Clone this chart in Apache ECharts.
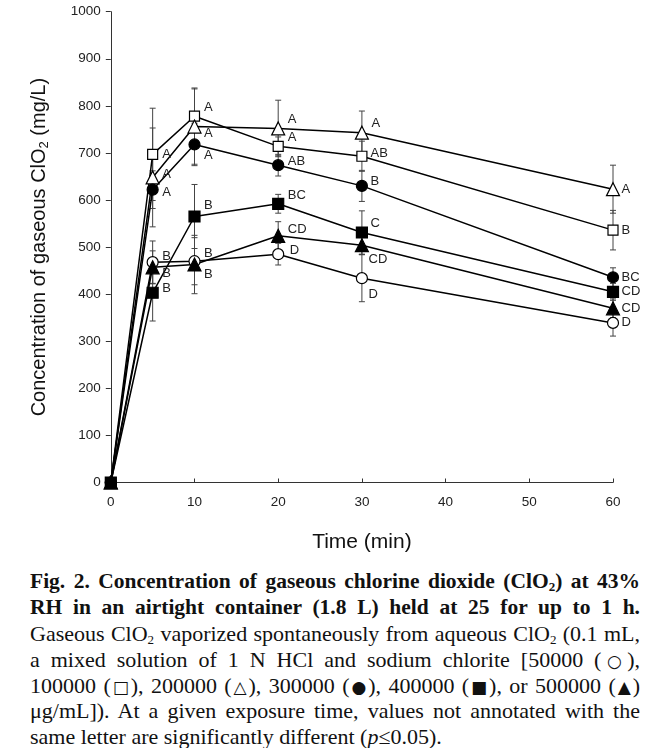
<!DOCTYPE html>
<html><head><meta charset="utf-8">
<script src="https://cdn.jsdelivr.net/npm/echarts@6/dist/echarts.min.js"></script>
<style>
html,body{margin:0;padding:0;background:#fff;}
#chart{position:absolute;left:0;top:0;width:658px;height:560px;}
#cap{position:absolute;left:30px;top:569px;width:610px;font-family:"Liberation Serif","Times New Roman",serif;font-size:22px;line-height:25.9px;color:#111;}
#cap div{text-align:justify;text-align-last:justify;white-space:nowrap;height:25.9px;}
#cap div.b{font-weight:bold;font-size:21.5px;}
#cap div.last{text-align-last:left;}
#cap sub{font-size:13px;vertical-align:-3px;line-height:0;}
#cap span.sy{font-family:"DejaVu Sans",sans-serif;font-size:17px;line-height:0;}
</style></head>
<body>
<div id="chart"></div>
<div id="cap">
<div class="b">Fig. 2. Concentration of gaseous chlorine dioxide (ClO<sub>2</sub>) at 43%</div>
<div class="b">RH in an airtight container (1.8 L) held at 25 for up to 1 h.</div>
<div>Gaseous ClO<sub>2</sub> vaporized spontaneously from aqueous ClO<sub>2</sub> (0.1 mL,</div>
<div>a mixed solution of 1 N HCl and sodium chlorite [50000 (<span class="sy">○</span>),</div>
<div>100000 (<span class="sy">□</span>), 200000 (<span class="sy">△</span>), 300000 (<span class="sy">●</span>), 400000 (<span class="sy">■</span>), or 500000 (<span class="sy">▲</span>)</div>
<div>μg/mL]). At a given exposure time, values not annotated with the</div>
<div class="last">same letter are significantly different (<i>p</i>≤0.05).</div>
</div>
<script>
// ---- data ----
const times = [0, 5, 10, 20, 30, 60];

const conc50000  = [0, 468, 470, 485, 434, 339];
const conc100000 = [0, 697, 778, 714, 693, 536];
const conc200000 = [0, 648, 756, 752, 743, 623];
const conc300000 = [0, 622, 718, 674, 630, 436];
const conc400000 = [0, 403, 565, 592, 531, 405];
const conc500000 = [0, 457, 463, 524, 504, 370];

const err50000  = [0, 45, 50, 23, 50, 28];
const err100000 = [0, 98, 60, 20, 32, 42];
const err200000 = [0, 105, 80, 60, 46, 51];
const err300000 = [0, 40, 45, 23, 33, 20];
const err400000 = [0, 60, 68, 20, 46, 18];
const err500000 = [0, 35, 62, 30, 20, 20];

const let50000  = ['', 'B', 'B', 'D', 'D', 'D'];
const let100000 = ['', 'A', 'A', 'A', 'AB', 'B'];
const let200000 = ['', 'A', 'A', 'A', 'A', 'A'];
const let300000 = ['', 'A', 'A', 'AB', 'B', 'BC'];
const let400000 = ['', 'B', 'B', 'BC', 'C', 'CD'];
const let500000 = ['', 'B', 'B', 'CD', 'CD', 'CD'];

// ---- styling (label offsets in px) ----
const off50000  = [[0,0],[9,-6],[9,-8],[11,-4],[6,16],[8,0]];
const off100000 = [[0,0],[9,0],[9,-9],[9,-9],[8,-3],[8,0]];
const off200000 = [[0,0],[9,-3],[9,7],[9,-9],[9,-9],[8,0]];
const off300000 = [[0,0],[9,3],[9,11],[9,-4],[8,-4],[8,0]];
const off400000 = [[0,0],[9,-4],[9,-11],[9,-8],[8,-9],[8,0]];
const off500000 = [[0,0],[9,6],[9,10],[9,-6],[6,14],[8,0]];

const groups = [
  {name:'50000',  v:conc50000,  e:err50000,  l:let50000,  o:off50000,  sym:'circle',   fill:'#fff', size:11},
  {name:'100000', v:conc100000, e:err100000, l:let100000, o:off100000, sym:'rect',     fill:'#fff', size:10},
  {name:'200000', v:conc200000, e:err200000, l:let200000, o:off200000, sym:'triangle', fill:'#fff', size:13},
  {name:'300000', v:conc300000, e:err300000, l:let300000, o:off300000, sym:'circle',   fill:'#000', size:11},
  {name:'400000', v:conc400000, e:err400000, l:let400000, o:off400000, sym:'rect',     fill:'#000', size:11},
  {name:'500000', v:conc500000, e:err500000, l:let500000, o:off500000, sym:'triangle', fill:'#000', size:13}
];

const FONT = 'Liberation Sans, Arial, sans-serif';
const chart = echarts.init(document.getElementById('chart'));
const series = [];
groups.forEach(function(g){
  series.push({
    type:'custom', name:g.name+' err', z:1, silent:true,
    data: times.map(function(t,i){ return [t, g.v[i]-g.e[i], g.v[i]+g.e[i]]; }),
    renderItem: function(params, api){
      const lo = api.coord([api.value(0), api.value(1)]);
      const hi = api.coord([api.value(0), api.value(2)]);
      const w = 3;
      const st = {stroke:'#444', lineWidth:1};
      return {type:'group', children:[
        {type:'line', shape:{x1:lo[0],y1:lo[1],x2:hi[0],y2:hi[1]}, style:st},
        {type:'line', shape:{x1:lo[0]-w,y1:lo[1],x2:lo[0]+w,y2:lo[1]}, style:st},
        {type:'line', shape:{x1:hi[0]-w,y1:hi[1],x2:hi[0]+w,y2:hi[1]}, style:st}
      ]};
    }
  });
  series.push({
    type:'line', name:g.name, z:3,
    symbol:g.sym, symbolSize:g.size, showAllSymbol:true,
    lineStyle:{color:'#000', width:1.5},
    itemStyle:{color:g.fill, borderColor:'#000', borderWidth:1.2},
    data: times.map(function(t,i){
      return {value:[t, g.v[i]], label:{show: g.l[i] !== '', formatter: g.l[i], offset:[g.o[i][0]-g.size/2, g.o[i][1]]}};
    }),
    label:{position:'right', distance:0, fontFamily:FONT, fontSize:13, color:'#222'},
    animation:false
  });
});

chart.setOption({
  animation:false,
  backgroundColor:'#fff',
  grid:{left:110.8, top:11.7, width:502.2, height:470.8, containLabel:false},
  xAxis:{
    type:'value', min:0, max:60, interval:10,
    name:'Time (min)', nameLocation:'middle', nameGap:49,
    nameTextStyle:{fontFamily:FONT, fontSize:21, color:'#111'},
    axisLine:{lineStyle:{color:'#333', width:1}},
    axisTick:{inside:true, length:4, lineStyle:{color:'#333'}},
    axisLabel:{fontFamily:FONT, fontSize:13.5, color:'#222', margin:13},
    splitLine:{show:false}
  },
  yAxis:{
    type:'value', min:0, max:1000, interval:100,
    name:'{n|Concentration of gaseous ClO}{s|2}{n| (mg/L)}', nameLocation:'middle', nameGap:60, nameRotate:90,
    nameTextStyle:{rich:{
      n:{fontFamily:FONT, fontSize:20, color:'#111'},
      s:{fontFamily:FONT, fontSize:13, color:'#111', verticalAlign:'bottom', padding:[9,0,0,0]}
    }},
    axisLine:{show:true, lineStyle:{color:'#333', width:1}},
    axisTick:{show:true, inside:false, length:5, lineStyle:{color:'#333'}},
    axisLabel:{fontFamily:FONT, fontSize:13.5, color:'#222', margin:10, formatter:function(v){return String(v);}},
    splitLine:{show:false}
  },
  series: series
});
</script>
</body></html>
